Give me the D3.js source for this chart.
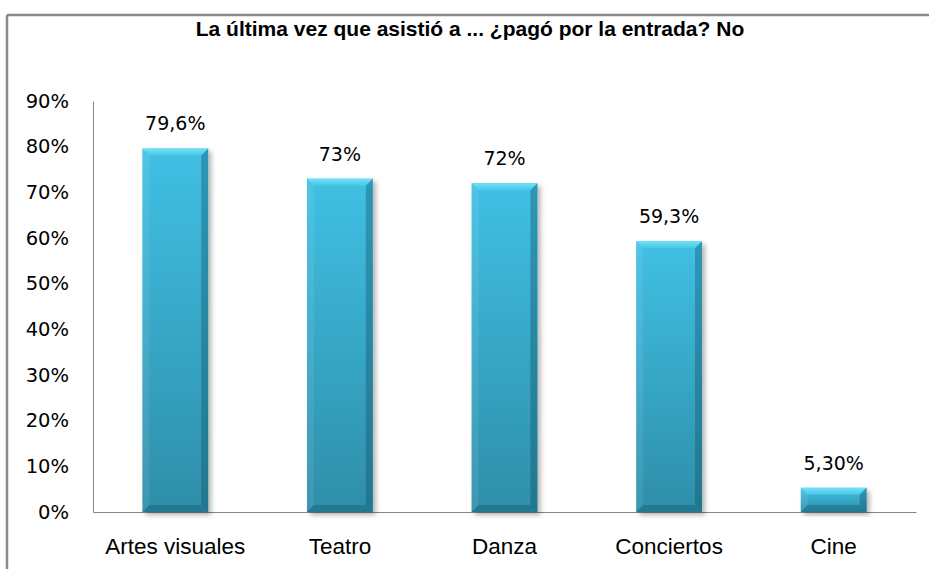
<!DOCTYPE html>
<html>
<head>
<meta charset="utf-8">
<script src="https://cdn.jsdelivr.net/npm/d3@7"></script>
<style>
  html, body { margin: 0; padding: 0; background: #fff; }
  svg { display: block; }
</style>
</head>
<body>
<div id="chart"></div>
<script>
const categorias = ['Artes visuales', 'Teatro', 'Danza', 'Conciertos', 'Cine'];
const valores = [79.6, 73, 72, 59.3, 5.3];
const etiquetas = ['79,6%', '73%', '72%', '59,3%', '5,30%'];
const ticksY = [0, 10, 20, 30, 40, 50, 60, 70, 80, 90];

const ancho = 929, alto = 569;
const margen = { left: 93, right: 13, top: 101, bottom: 57 };

const svg = d3.select('#chart').append('svg')
  .attr('width', ancho).attr('height', alto);

const defs = svg.append('defs');
const grad = defs.append('linearGradient').attr('id', 'cuerpo')
  .attr('x1', 0).attr('y1', 0).attr('x2', 0).attr('y2', 1);
grad.append('stop').attr('offset', '0%').attr('stop-color', '#40c0e4');
grad.append('stop').attr('offset', '100%').attr('stop-color', '#2e8ea9');

const gradTop = defs.append('linearGradient').attr('id', 'bisel')
  .attr('x1', 0).attr('y1', 0).attr('x2', 0).attr('y2', 1);
gradTop.append('stop').attr('offset', '0%').attr('stop-color', '#72e2f7');
gradTop.append('stop').attr('offset', '100%').attr('stop-color', '#47c6e8');

const sombra = defs.append('filter').attr('id', 'sombra')
  .attr('x', '-20%').attr('y', '-10%').attr('width', '150%').attr('height', '130%');
sombra.append('feDropShadow').attr('dx', 3).attr('dy', 3).attr('stdDeviation', 2.5)
  .attr('flood-color', '#000').attr('flood-opacity', 0.3);

// marco del gráfico
svg.append('line').attr('x1', 7).attr('x2', ancho).attr('y1', 15).attr('y2', 15)
  .attr('stroke', '#8a8a8a').attr('stroke-width', 2.5);
svg.append('line').attr('x1', 7).attr('x2', 7).attr('y1', 15).attr('y2', alto)
  .attr('stroke', '#8a8a8a').attr('stroke-width', 2.5);

svg.append('text')
  .attr('x', 470).attr('y', 36)
  .attr('text-anchor', 'middle')
  .attr('font-family', '"Liberation Sans", Arial, sans-serif')
  .attr('font-weight', 'bold')
  .attr('font-size', 21)
  .attr('fill', '#000')
  .text('La última vez que asistió a ... ¿pagó por la entrada? No');

const x = d3.scaleBand().domain(categorias)
  .range([margen.left, ancho - margen.right]).paddingInner(0.6).paddingOuter(0.3);
const y = d3.scaleLinear().domain([0, 90]).range([alto - margen.bottom, margen.top]);

// eje Y
const ejeY = svg.append('g')
  .attr('transform', `translate(${margen.left},0)`)
  .call(d3.axisLeft(y).tickValues(ticksY).tickSize(0).tickPadding(24).tickFormat(d => d + '%'));
ejeY.select('.domain').attr('stroke', '#868686');
ejeY.selectAll('text')
  .attr('font-family', '"DejaVu Sans", Verdana, sans-serif')
  .attr('font-size', 19.5).attr('fill', '#000');

// eje X
const ejeX = svg.append('g')
  .attr('transform', `translate(0,${y(0)})`)
  .call(d3.axisBottom(x).tickSize(0).tickPadding(26));
ejeX.select('.domain').attr('stroke', '#868686');
ejeX.selectAll('text')
  .attr('font-family', '"Liberation Sans", Arial, sans-serif')
  .attr('font-size', 22.5).attr('fill', '#000');

// barras con bisel
const barras = svg.append('g').selectAll('g')
  .data(categorias.map((c, i) => ({ c, v: valores[i], t: etiquetas[i] })))
  .join('g');

barras.append('rect')
  .attr('x', d => x(d.c)).attr('y', d => y(d.v))
  .attr('width', x.bandwidth()).attr('height', d => y(0) - y(d.v))
  .attr('fill', 'url(#cuerpo)')
  .attr('filter', 'url(#sombra)');

const b = 7;
// bisel superior
barras.append('path')
  .attr('d', d => {
    const x0 = x(d.c), x1 = x0 + x.bandwidth(), y0 = y(d.v);
    return `M${x0},${y0}L${x1},${y0}L${x1 - b},${y0 + b}L${x0 + b},${y0 + b}Z`;
  })
  .attr('fill', 'url(#bisel)');
// bisel izquierdo
barras.append('path')
  .attr('d', d => {
    const x0 = x(d.c), y0 = y(d.v), y1 = y(0);
    return `M${x0},${y0}L${x0 + b},${y0 + b}L${x0 + b},${y1 - b}L${x0},${y1}Z`;
  })
  .attr('fill', '#ffffff').attr('opacity', 0.08);
// bisel derecho
barras.append('path')
  .attr('d', d => {
    const x1 = x(d.c) + x.bandwidth(), y0 = y(d.v), y1 = y(0);
    return `M${x1},${y0}L${x1 - b},${y0 + b}L${x1 - b},${y1 - b}L${x1},${y1}Z`;
  })
  .attr('fill', '#0b4a5e').attr('opacity', 0.35);
// bisel inferior
barras.append('path')
  .attr('d', d => {
    const x0 = x(d.c), x1 = x0 + x.bandwidth(), y1 = y(0);
    return `M${x0},${y1}L${x0 + b},${y1 - b}L${x1 - b},${y1 - b}L${x1},${y1}Z`;
  })
  .attr('fill', '#0b4a5e').attr('opacity', 0.3);

barras.append('text')
  .attr('x', d => x(d.c) + x.bandwidth() / 2)
  .attr('y', d => y(d.v) - 18)
  .attr('text-anchor', 'middle')
  .attr('font-family', '"DejaVu Sans", Verdana, sans-serif')
  .attr('font-size', 19).attr('fill', '#000')
  .text(d => d.t);
</script>
</body>
</html>
